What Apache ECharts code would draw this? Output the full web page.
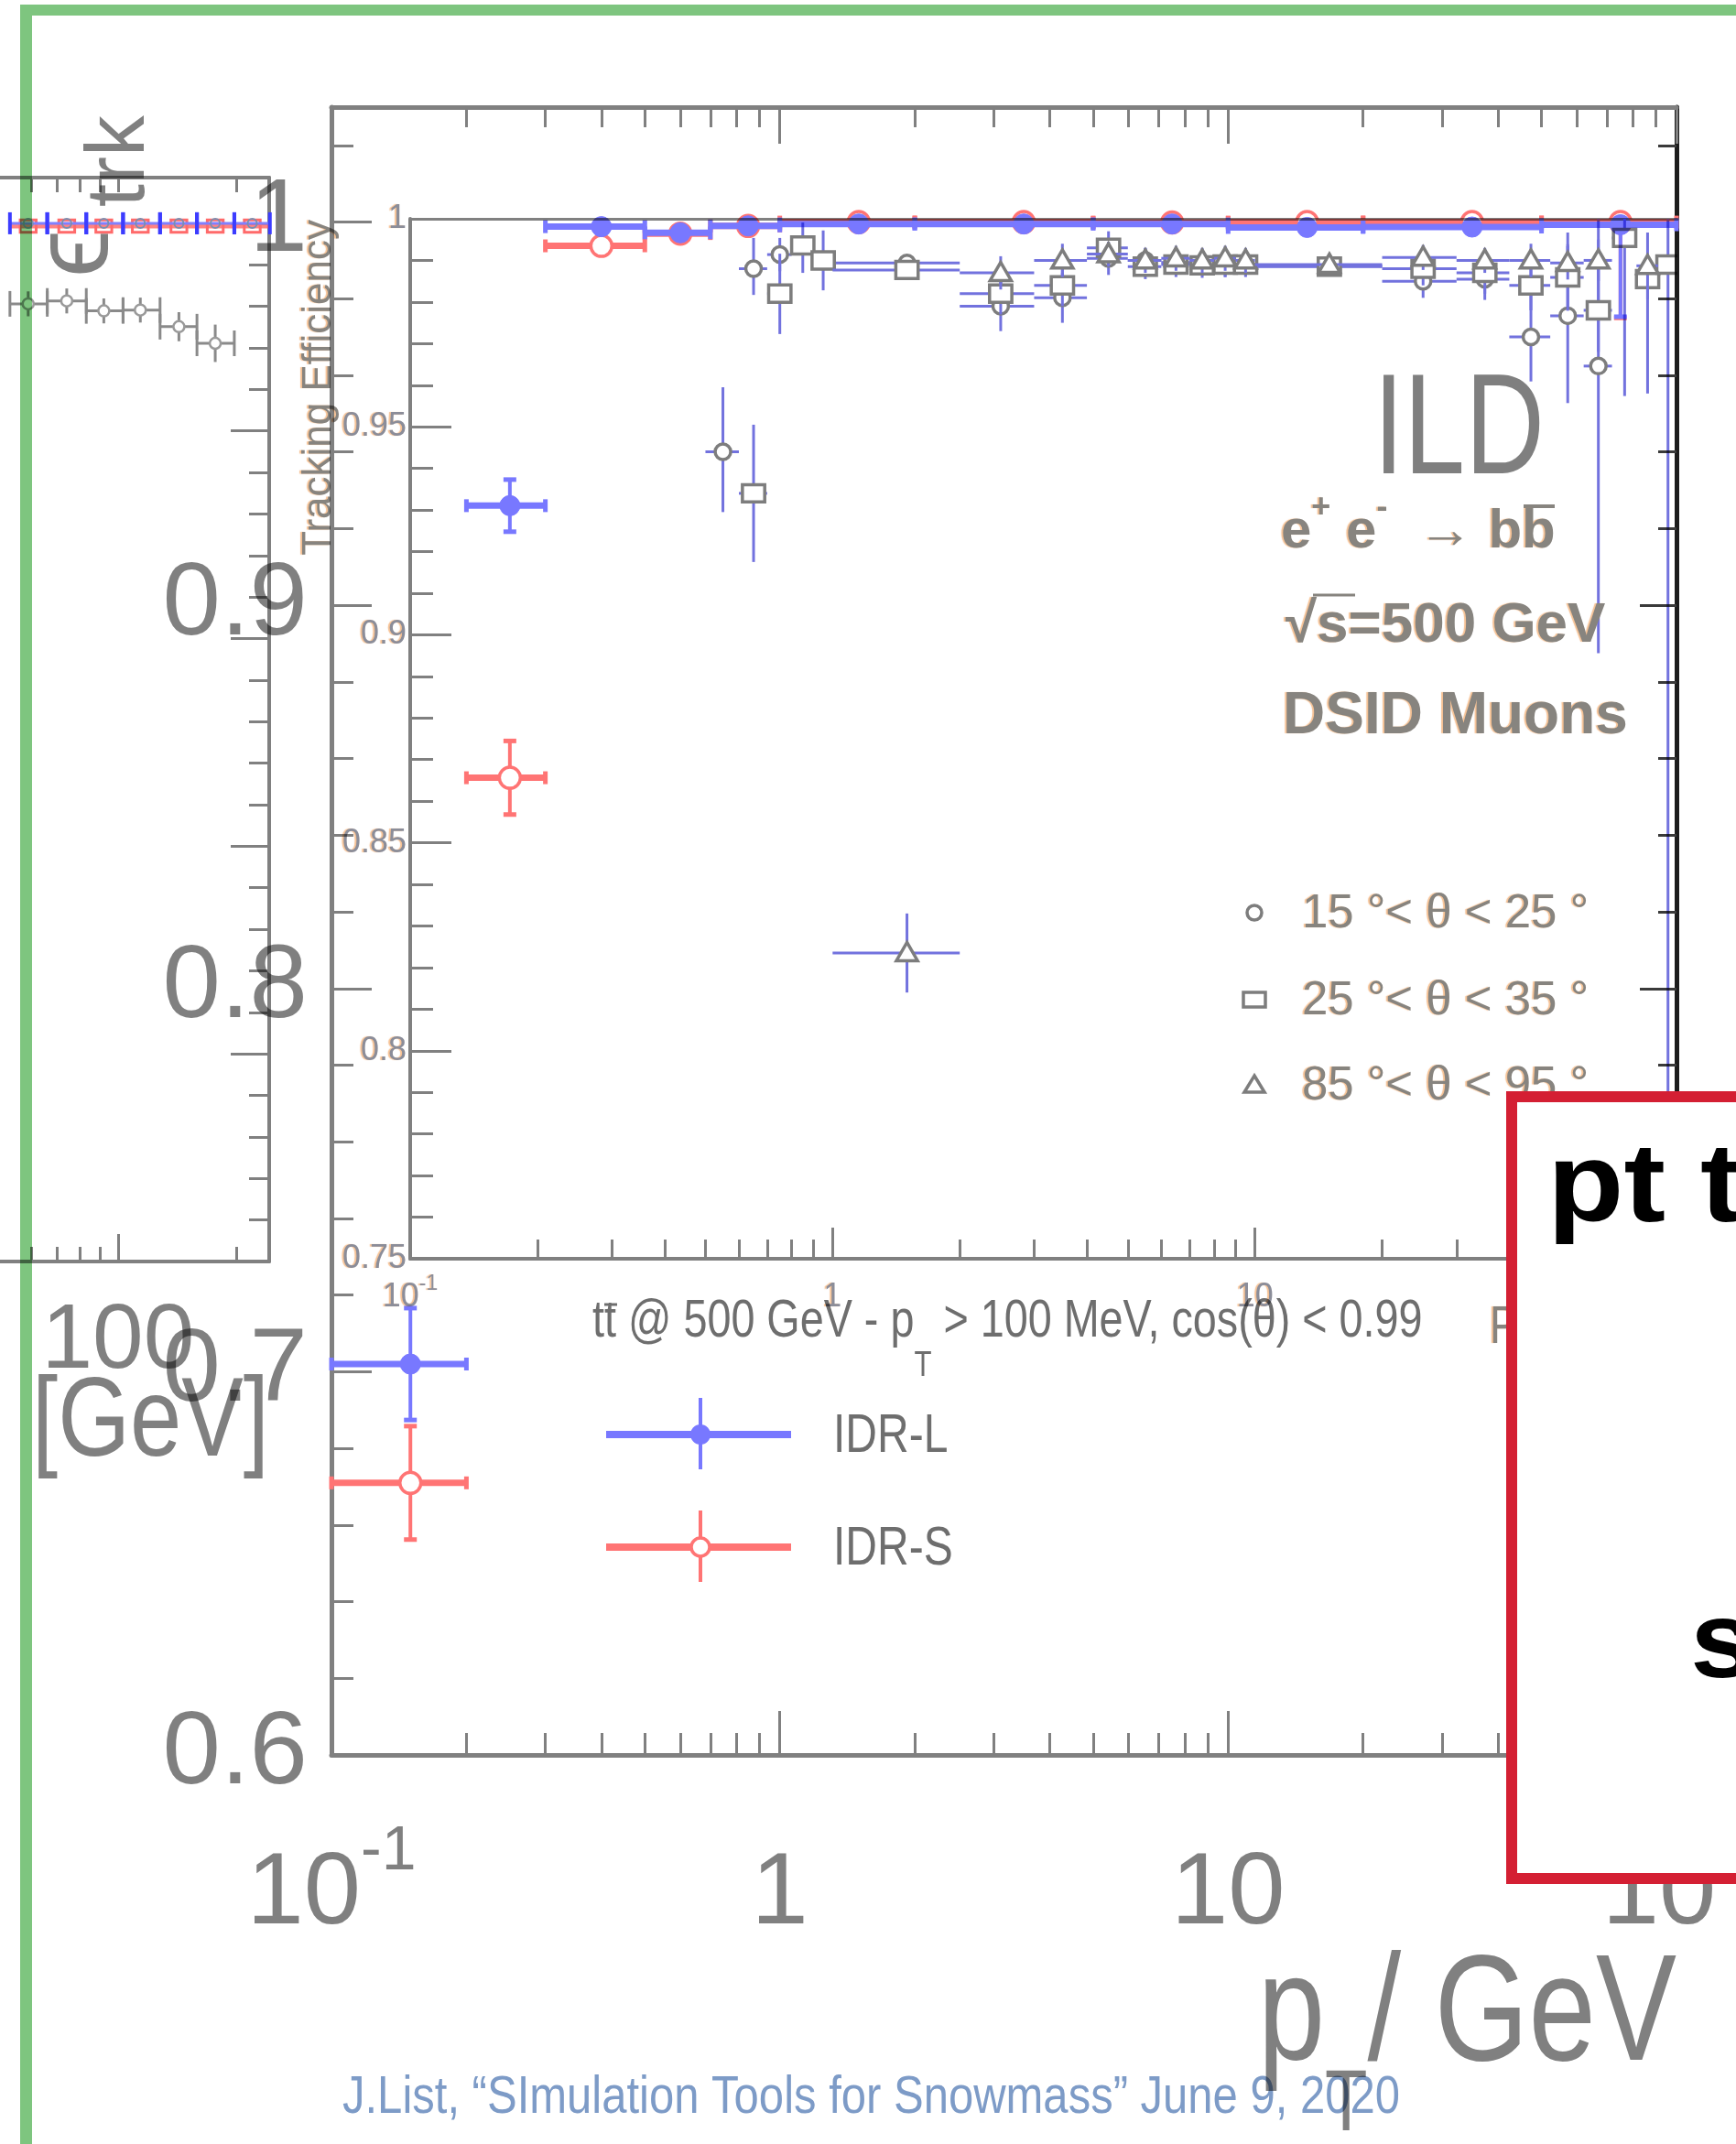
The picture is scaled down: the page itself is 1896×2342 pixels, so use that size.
<!DOCTYPE html>
<html>
<head>
<meta charset="utf-8">
<script src="https://cdn.jsdelivr.net/npm/echarts@6/dist/echarts.min.js"></script>
<style>
  html, body { margin: 0; padding: 0; background: #fff; }
  #stage { position: relative; width: 1896px; height: 2342px; overflow: hidden; background: #fff; }
  .layer { position: absolute; left: 0; top: 0; width: 1896px; height: 2342px; }
  .mul { mix-blend-mode: multiply; }
</style>
</head>
<body>
<div id="stage">
  <div id="plotC" class="layer mul"></div>
  <div id="plotA" class="layer mul"></div>
  <div id="inset" class="layer mul"></div>
  <div id="boxLayer" class="layer"></div>
  <div id="topLayer" class="layer mul"></div>
</div>
<script>
// ---------------- data ----------------
// ttbar @ 500 GeV tracking efficiency, IDR-L vs IDR-S, per pT bin
const idrPtCentre = [0.15, 0.25, 0.4, 0.6, 0.85, 1.5, 3.5, 7.5, 15, 35, 75];
const idrPtLow    = [0.1, 0.2, 0.3, 0.5, 0.7, 1, 2, 5, 10, 20, 50];
const idrPtHigh   = [0.2, 0.3, 0.5, 0.7, 1, 2, 5, 10, 20, 50, 100];
const idrLEff     = [0.702, 0.926, 0.9988, 0.9972, 0.999, 0.9995, 0.9995, 0.9995, 0.9986, 0.9987, 0.9993];
const idrLErrLow  = [0.0146, 0.0068, 0.0012, 0.0012, 0.0008, 0.0005, 0.0005, 0.0005, 0.0006, 0.0008, 0.024];
const idrLErrHigh = [0.0146, 0.0068, 0.0012, 0.0012, 0.0008, 0.0005, 0.0005, 0.0005, 0.0006, 0.0008, 0.0007];
const idrSEff     = [0.671, 0.855, 0.9938, 0.997, 0.999, 1.0, 1.0, 0.9999, 1.0, 1.0, 1.0];
const idrSErrLow  = [0.0148, 0.0096, 0.0015, 0.0012, 0.0008, 0.0004, 0.0004, 0.0004, 0.0005, 0.0006, 0.025];
const idrSErrHigh = [0.0148, 0.0096, 0.0015, 0.0012, 0.0008, 0, 0, 0.0001, 0, 0, 0];

// ILD, e+e- -> bb, DSID muons: 15-25 deg
const mu15Pt      = [0.55, 0.65, 0.75, 1.5, 2.5, 3.5, 4.5, 5.5, 6.5, 7.5, 8.5, 9.5, 15, 25, 35, 45, 55, 65];
const mu15Low     = [0.5, 0.6, 0.7, 1, 2, 3, 4, 5, 6, 7, 8, 9, 10, 20, 30, 40, 50, 60];
const mu15High    = [0.6, 0.7, 0.8, 2, 3, 4, 5, 6, 7, 8, 9, 10, 20, 30, 40, 50, 60, 70];
const mu15Eff     = [0.944, 0.988, 0.9914, 0.9894, 0.979, 0.981, 0.9905, 0.990, 0.9895, 0.9893, 0.989, 0.9893, 0.9886, 0.985, 0.9855, 0.9716, 0.9767, 0.9646];
const mu15ErrLow  = [0.0145, 0.0063, 0.004, 0.002, 0.006, 0.006, 0.004, 0.003, 0.003, 0.003, 0.003, 0.003, 0.002, 0.004, 0.005, 0.0107, 0.021, 0.069];
const mu15ErrHigh = [0.0155, 0.0074, 0.004, 0.002, 0.006, 0.006, 0.004, 0.003, 0.003, 0.003, 0.003, 0.003, 0.002, 0.004, 0.005, 0.0107, 0.020, 0.0354];

// 25-35 deg
const mu25Pt      = [0.65, 0.75, 0.85, 0.95, 1.5, 2.5, 3.5, 4.5, 5.5, 6.5, 7.5, 8.5, 9.5, 15, 25, 35, 45, 55, 65, 75, 85, 95];
const mu25Low     = [0.6, 0.7, 0.8, 0.9, 1, 2, 3, 4, 5, 6, 7, 8, 9, 10, 20, 30, 40, 50, 60, 70, 80, 90];
const mu25High    = [0.7, 0.8, 0.9, 1, 2, 3, 4, 5, 6, 7, 8, 9, 10, 20, 30, 40, 50, 60, 70, 80, 90, 100];
const mu25Eff     = [0.934, 0.982, 0.9936, 0.990, 0.9877, 0.982, 0.984, 0.993, 0.9885, 0.989, 0.9888, 0.989, 0.989, 0.9885, 0.988, 0.987, 0.984, 0.9859, 0.978, 0.9954, 0.9855, 0.989];
const mu25ErrLow  = [0.0165, 0.0097, 0.0066, 0.0072, 0.002, 0.005, 0.005, 0.004, 0.003, 0.003, 0.003, 0.003, 0.003, 0.002, 0.004, 0.005, 0.006, 0.008, 0.01, 0.038, 0.0275, 0.24];
const mu25ErrHigh = [0.0165, 0.0096, 0.0055, 0.0072, 0.002, 0.005, 0.005, 0.004, 0.003, 0.003, 0.003, 0.003, 0.003, 0.002, 0.004, 0.005, 0.006, 0.008, 0.01, 0.0046, 0.0055, 0.011];

// 85-95 deg
const mu85Pt      = [1.5, 2.5, 3.5, 4.5, 5.5, 6.5, 7.5, 8.5, 9.5, 15, 25, 35, 45, 55, 65, 85];
const mu85Low     = [1, 2, 3, 4, 5, 6, 7, 8, 9, 10, 20, 30, 40, 50, 60, 80];
const mu85High    = [2, 3, 4, 5, 6, 7, 8, 9, 10, 20, 30, 40, 50, 60, 70, 90];
const mu85Eff     = [0.8235, 0.987, 0.990, 0.9915, 0.990, 0.9905, 0.990, 0.9905, 0.990, 0.989, 0.9907, 0.990, 0.990, 0.9894, 0.990, 0.9887];
const mu85Err     = [0.0095, 0.004, 0.004, 0.003, 0.003, 0.003, 0.003, 0.003, 0.003, 0.002, 0.003, 0.003, 0.004, 0.004, 0.005, 0.008];

// high-pT panel on the left
const hiPtCentre  = [59, 74, 92, 114, 143, 177, 220];
const hiPtLow     = [53, 66, 83, 103, 128, 159, 198];
const hiPtHigh    = [66, 83, 103, 128, 159, 198, 244];
const hiEffBlue   = [1.0, 1.0, 1.0, 1.0, 1.0, 1.0, 1.0];
const hiEffRed    = [0.9993, 0.9993, 0.9993, 0.9993, 0.9993, 0.9993, 0.9993];
const hiErrZero   = [0, 0, 0, 0, 0, 0, 0];
const hiGrayPt    = [59, 74, 92, 114, 143, 177];
const hiGrayLow   = [53, 66, 83, 103, 128, 159];
const hiGrayHigh  = [66, 83, 103, 128, 159, 198];
const hiEffGray   = [0.9806, 0.9813, 0.9789, 0.9791, 0.9751, 0.9711];
const hiErrGray   = [0.003, 0.003, 0.003, 0.003, 0.0035, 0.0045];

// ticks and tick labels
const ptMajorTicks  = [0.1, 1, 10, 100];
const ptMinorTicks  = [0.2, 0.3, 0.4, 0.5, 0.6, 0.7, 0.8, 0.9, 2, 3, 4, 5, 6, 7, 8, 9, 20, 30, 40, 50, 60, 70, 80, 90];
const ptTickLabels  = ['10^-1', '1', '10', '10^2'];
const effMajorA     = [0.6, 0.7, 0.8, 0.9, 1.0];
const effMinorA     = [0.62, 0.64, 0.66, 0.68, 0.72, 0.74, 0.76, 0.78, 0.82, 0.84, 0.86, 0.88, 0.92, 0.94, 0.96, 0.98, 1.02];
const effLabelsA    = ['0.6', '0.7', '0.8', '0.9', '1'];
const effMajorB     = [0.75, 0.8, 0.85, 0.9, 0.95, 1.0];
const effMinorB     = [0.76, 0.77, 0.78, 0.79, 0.81, 0.82, 0.83, 0.84, 0.86, 0.87, 0.88, 0.89, 0.91, 0.92, 0.93, 0.94, 0.96, 0.97, 0.98, 0.99];
const effLabelsB    = ['0.75', '0.8', '0.85', '0.9', '0.95', '1'];
const hiPtMajorTicks = [100];
const hiPtMinorTicks = [60, 70, 80, 90, 200];
const hiPtTickLabels = ['100'];

// ---------------- styling helpers ----------------
const GRAY = '#808080';
const SANS = '"Liberation Sans",Arial,Helvetica,sans-serif';
const BLUE = '#7878ff';
const RED = '#ff7474';
const INK = '#87847f';
const LABEL_INK = '#8b8d99';
const FRINGE = 'rgba(240,160,90,0.65)';

function lookupLabel(ticks, labels, v, isLog) {
  let best = 0, bestD = Infinity;
  for (let i = 0; i < ticks.length; i++) {
    const d = isLog ? Math.abs(Math.log10(v) - Math.log10(ticks[i])) : Math.abs(v - ticks[i]);
    if (d < bestD) { bestD = d; best = i; }
  }
  return labels[best];
}
function powRich(txt) {
  const k = txt.indexOf('^');
  return k < 0 ? '{b|' + txt + '}' : '{b|' + txt.slice(0, k) + '}{s|' + txt.slice(k + 1) + '}';
}

function tickAxis(o) {
  const ax = {
    type: o.type, position: o.position, gridIndex: o.grid, min: o.min, max: o.max,
    axisLine: { show: !!o.line, onZero: false, lineStyle: { color: o.line || GRAY, width: o.lineWidth || 4 } },
    axisTick: { show: !!o.ticks, inside: true, length: o.len || 10, customValues: o.ticks || [],
      lineStyle: { color: o.tickColor || GRAY, width: o.tickWidth || 3 } },
    axisLabel: o.labels || { show: false },
    splitLine: { show: false },
    minorTick: { show: false },
    minorSplitLine: { show: false }
  };
  if (o.type === 'log') ax.logBase = 10;
  return ax;
}

function markerShape(kind, cx, cy, st) {
  const s = st.size;
  const style = { fill: st.fill, stroke: st.stroke, lineWidth: st.markerLine };
  if (kind === 'circle') return { type: 'circle', shape: { cx: cx, cy: cy, r: s / 2 }, style: style };
  if (kind === 'square') return { type: 'rect', shape: { x: cx - s * 0.58, y: cy - s * 0.45, width: s * 1.16, height: s * 0.9 }, style: style };
  return { type: 'polygon', shape: { points: [[cx, cy - s * 0.55], [cx + s * 0.55, cy + s * 0.4], [cx - s * 0.55, cy + s * 0.4]] }, style: style };
}

function errorSeries(name, xs, lo, hi, ys, eLo, eHi, st) {
  const data = xs.map(function (x, i) { return [x, ys[i], lo[i], hi[i], ys[i] - eLo[i], ys[i] + eHi[i]]; });
  return {
    type: 'custom', name: name, xAxisIndex: 0, yAxisIndex: 0, clip: !!st.clip, z: st.z || 5,
    encode: { x: [0, 2, 3], y: [1, 4, 5] },
    data: data,
    renderItem: function (params, api) {
      const c = api.coord([api.value(0), api.value(1)]);
      const l = api.coord([api.value(2), api.value(1)]);
      const h = api.coord([api.value(3), api.value(1)]);
      const b = api.coord([api.value(0), api.value(4)]);
      const t = api.coord([api.value(0), api.value(5)]);
      const kids = [];
      function seg(x1, y1, x2, y2, w, col) {
        kids.push({ type: 'line', shape: { x1: x1, y1: y1, x2: x2, y2: y2 }, style: { stroke: col, lineWidth: w } });
      }
      seg(l[0], c[1], h[0], c[1], st.hWidth, st.hColor || st.bar);
      if (Math.abs(b[1] - t[1]) > 0.5) seg(c[0], b[1], c[0], t[1], st.vWidth, st.bar);
      if (st.capH) {
        seg(l[0], c[1] - st.capH / 2, l[0], c[1] + st.capH / 2, st.capW, st.capColor || st.bar);
        seg(h[0], c[1] - st.capH / 2, h[0], c[1] + st.capH / 2, st.capW, st.capColor || st.bar);
      }
      if (st.capV && Math.abs(b[1] - t[1]) > 0.5) {
        seg(c[0] - st.capV / 2, b[1], c[0] + st.capV / 2, b[1], st.capW, st.bar);
        seg(c[0] - st.capV / 2, t[1], c[0] + st.capV / 2, t[1], st.capW, st.bar);
      }
      if (st.marker) kids.push(markerShape(st.marker, c[0], c[1], st));
      return { type: 'group', children: kids };
    }
  };
}

function gridsAt(r) {
  const g = { left: r.left, top: r.top, width: r.width, height: r.height, containLabel: false, outerBoundsMode: 'none' };
  return [g, Object.assign({}, g), Object.assign({}, g), Object.assign({}, g)];
}

function txt(x, y, text, o) {
  return {
    type: 'text', x: x, y: y, rotation: o.rotation || 0, scaleX: o.scaleX || 1, z: 50,
    style: Object.assign({
      text: text, fill: o.fill || GRAY, fontSize: o.fontSize || 40, fontFamily: o.fontFamily || SANS,
      fontWeight: o.fontWeight || 'normal', align: o.align || 'left', verticalAlign: o.verticalAlign || 'middle'
    }, o.extra || {})
  };
}
function seg(x1, y1, x2, y2, w, col, z) {
  return { type: 'line', z: z || 40, shape: { x1: x1, y1: y1, x2: x2, y2: y2 }, style: { stroke: col, lineWidth: w } };
}

// ---------------- left high-pT panel ----------------
const chartC = echarts.init(document.getElementById('plotC'), null, { renderer: 'canvas' });
chartC.setOption({
  animation: false,
  grid: gridsAt({ left: 0, top: 194, width: 294, height: 1184 }),
  xAxis: [
    tickAxis({ type: 'log', position: 'bottom', grid: 0, min: 50, max: 243, line: GRAY, lineWidth: 4, ticks: hiPtMajorTicks, len: 30,
      labels: { show: true, customValues: hiPtMajorTicks, margin: 38, color: GRAY, fontFamily: SANS, fontSize: 100,
        formatter: function (v) { return lookupLabel(hiPtMajorTicks, hiPtTickLabels, v, true); } } }),
    tickAxis({ type: 'log', position: 'bottom', grid: 1, min: 50, max: 243, ticks: hiPtMinorTicks, len: 16 }),
    tickAxis({ type: 'log', position: 'top', grid: 2, min: 50, max: 243, line: GRAY, lineWidth: 4, ticks: hiPtMinorTicks.concat(hiPtMajorTicks), len: 16 }),
    tickAxis({ type: 'log', position: 'top', grid: 3, min: 50, max: 243 })
  ],
  yAxis: [
    tickAxis({ type: 'value', position: 'right', grid: 0, min: 0.75, max: 1.011, line: GRAY, lineWidth: 4, ticks: effMajorB, len: 42 }),
    tickAxis({ type: 'value', position: 'right', grid: 1, min: 0.75, max: 1.011, ticks: effMinorB, len: 22 }),
    tickAxis({ type: 'value', position: 'left', grid: 2, min: 0.75, max: 1.011 }),
    tickAxis({ type: 'value', position: 'left', grid: 3, min: 0.75, max: 1.011 })
  ],
  series: [
    errorSeries('gray', hiGrayPt, hiGrayLow, hiGrayHigh, hiEffGray, hiErrGray, hiErrGray,
      { bar: '#8a8a8a', hWidth: 3, vWidth: 3, capH: 28, capW: 3, marker: 'circle', size: 12, fill: '#fff', stroke: '#9a9a9a', markerLine: 2.5 }),
    errorSeries('red', hiPtCentre, hiPtLow, hiPtHigh, hiEffRed, hiErrZero, hiErrZero,
      { bar: 'rgba(255,100,100,0.8)', hWidth: 5, vWidth: 3, marker: 'square', size: 15, fill: 'rgba(255,255,255,0)', stroke: '#ff6a6a', markerLine: 3 }),
    errorSeries('blue', hiPtCentre, hiPtLow, hiPtHigh, hiEffBlue, hiErrZero, hiErrZero,
      { bar: '#8080ff', hWidth: 3, vWidth: 3, capH: 24, capW: 4, capColor: '#3c3cff', marker: 'circle', size: 10, fill: 'rgba(255,255,255,0)', stroke: '#7a8fb0', markerLine: 2 })
  ],
  graphic: [
    txt(294, 1556, '[GeV]', { fontSize: 122, scaleX: 0.83, align: 'right' })
  ]
});

// ---------------- main panel: IDR-L vs IDR-S ----------------
const bigLabelRich = {
  b: { fontSize: 112, lineHeight: 116, padding: [25, 0, 0, 0], verticalAlign: 'top', fontFamily: SANS, color: GRAY },
  s: { fontSize: 68, lineHeight: 70, verticalAlign: 'top', fontFamily: SANS, color: GRAY }
};
const chartA = echarts.init(document.getElementById('plotA'), null, { renderer: 'canvas' });
chartA.setOption({
  animation: false,
  grid: gridsAt({ left: 362, top: 117, width: 1469, height: 1800 }),
  xAxis: [
    tickAxis({ type: 'log', position: 'bottom', grid: 0, min: 0.1, max: 100, line: GRAY, lineWidth: 5, ticks: ptMajorTicks, len: 48,
      labels: { show: true, customValues: ptMajorTicks, margin: 72, color: GRAY, fontFamily: SANS, fontSize: 112,
        formatter: function (v) { return powRich(lookupLabel(ptMajorTicks, ptTickLabels, v, true)); }, rich: bigLabelRich } }),
    tickAxis({ type: 'log', position: 'bottom', grid: 1, min: 0.1, max: 100, ticks: ptMinorTicks, len: 24 }),
    tickAxis({ type: 'log', position: 'top', grid: 2, min: 0.1, max: 100, line: GRAY, lineWidth: 5, ticks: ptMajorTicks, len: 40 }),
    tickAxis({ type: 'log', position: 'top', grid: 3, min: 0.1, max: 100, ticks: ptMinorTicks, len: 22 })
  ],
  yAxis: [
    tickAxis({ type: 'value', position: 'left', grid: 0, min: 0.6, max: 1.03, line: GRAY, lineWidth: 5, ticks: effMajorA, len: 44,
      labels: { show: true, customValues: effMajorA, margin: 26, color: GRAY, fontFamily: SANS, fontSize: 114,
        formatter: function (v) { return lookupLabel(effMajorA, effLabelsA, v, false); } } }),
    tickAxis({ type: 'value', position: 'left', grid: 1, min: 0.6, max: 1.03, ticks: effMinorA, len: 24 }),
    tickAxis({ type: 'value', position: 'right', grid: 2, min: 0.6, max: 1.03, line: '#1c1c1c', lineWidth: 5, ticks: effMajorA, len: 40, tickColor: '#3a3a3a' }),
    tickAxis({ type: 'value', position: 'right', grid: 3, min: 0.6, max: 1.03, ticks: effMinorA, len: 20, tickColor: '#3a3a3a' })
  ],
  series: [
    errorSeries('IDR-S', idrPtCentre, idrPtLow, idrPtHigh, idrSEff, idrSErrLow, idrSErrHigh,
      { bar: RED, hWidth: 7, vWidth: 4, capH: 14, capV: 14, capW: 5, marker: 'circle', size: 23, fill: '#fff', stroke: RED, markerLine: 3.5, z: 5 }),
    errorSeries('IDR-L', idrPtCentre, idrPtLow, idrPtHigh, idrLEff, idrLErrLow, idrLErrHigh,
      { bar: BLUE, hWidth: 7, vWidth: 4, capH: 14, capV: 14, capW: 5, marker: 'circle', size: 22, fill: BLUE, stroke: BLUE, markerLine: 1, z: 6 })
  ],
  graphic: [
    // y-axis title, rotated
    txt(85, 303, '\u03F5', { fontSize: 118, rotation: Math.PI / 2 }),
    txt(132, 226, 'trk', { fontSize: 90, rotation: Math.PI / 2 }),
    // x-axis title
    { type: 'text', x: 1831, y: 2122, scaleX: 0.8, z: 50, style: {
        text: '{n|p}{sub|T}{n|/ GeV}', align: 'right', verticalAlign: 'top', fill: GRAY, fontFamily: SANS, fontSize: 165,
        rich: {
          n: { fontSize: 165, lineHeight: 170, verticalAlign: 'top', fontFamily: SANS, fill: GRAY },
          sub: { fontSize: 95, lineHeight: 95, verticalAlign: 'top', padding: [131, 0, 0, 0], fontFamily: SANS, fill: GRAY }
        } } },
    // sample description
    { type: 'text', x: 647, y: 1416, scaleX: 0.82, z: 50, style: {
        text: '{n|tt @ 500 GeV - p}{sub|T}{n| > 100 MeV, cos(\u03B8) < 0.99}', align: 'left', verticalAlign: 'top', fill: '#6e6e6e', fontFamily: SANS, fontSize: 57,
        rich: {
          n: { fontSize: 57, lineHeight: 70, verticalAlign: 'top', fontFamily: SANS, fill: '#6e6e6e' },
          sub: { fontSize: 38, lineHeight: 38, verticalAlign: 'top', padding: [58, 0, 0, 0], fontFamily: SANS, fill: '#6e6e6e' }
        } } },
    seg(660, 1425, 674, 1425, 3, '#6e6e6e'),
    // legend
    seg(662, 1567, 864, 1567, 8, BLUE), seg(765, 1527, 765, 1605, 4, BLUE),
    { type: 'circle', z: 41, shape: { cx: 765, cy: 1567, r: 11 }, style: { fill: BLUE } },
    seg(662, 1690, 864, 1690, 8, RED), seg(765, 1650, 765, 1728, 4, RED),
    { type: 'circle', z: 41, shape: { cx: 765, cy: 1690, r: 10 }, style: { fill: '#fff', stroke: RED, lineWidth: 3.5 } },
    txt(910, 1569, 'IDR-L', { fontSize: 60, scaleX: 0.8, fill: '#6e6e6e' }),
    txt(910, 1692, 'IDR-S', { fontSize: 60, scaleX: 0.8, fill: '#6e6e6e' })
  ]
});

// ---------------- inset: ILD DSID muons ----------------
const fringe = { textShadowColor: FRINGE, textShadowOffsetX: -2, textShadowBlur: 1 };
const smallRich = {
  b: { fontSize: 36, lineHeight: 40, padding: [8, 0, 0, 0], verticalAlign: 'top', fontFamily: SANS, color: LABEL_INK },
  s: { fontSize: 23, lineHeight: 25, verticalAlign: 'top', fontFamily: SANS, color: LABEL_INK }
};
const muStyle = function (kind) {
  return { bar: '#7272de', hWidth: 3, vWidth: 3, marker: kind, size: kind === 'circle' ? 17 : 21, fill: '#fff', stroke: '#7d7d7d', markerLine: 3.5, clip: true };
};
const chartB = echarts.init(document.getElementById('inset'), null, { renderer: 'canvas' });
chartB.setOption({
  animation: false,
  grid: gridsAt({ left: 448, top: 239, width: 1384, height: 1136 }),
  xAxis: [
    tickAxis({ type: 'log', position: 'bottom', grid: 0, min: 0.1, max: 100, line: GRAY, lineWidth: 4, ticks: ptMajorTicks, len: 34,
      labels: Object.assign({ show: true, customValues: ptMajorTicks, margin: 16, color: LABEL_INK, fontFamily: SANS, fontSize: 36,
        formatter: function (v) { return powRich(lookupLabel(ptMajorTicks, ptTickLabels, v, true)); }, rich: smallRich }, fringe) }),
    tickAxis({ type: 'log', position: 'bottom', grid: 1, min: 0.1, max: 100, ticks: ptMinorTicks, len: 21 }),
    tickAxis({ type: 'log', position: 'top', grid: 2, min: 0.1, max: 100, line: GRAY, lineWidth: 3 }),
    tickAxis({ type: 'log', position: 'top', grid: 3, min: 0.1, max: 100 })
  ],
  yAxis: [
    tickAxis({ type: 'value', position: 'left', grid: 0, min: 0.75, max: 1.0, line: GRAY, lineWidth: 4, ticks: effMajorB, len: 45,
      labels: Object.assign({ show: true, customValues: effMajorB, margin: 4, color: LABEL_INK, fontFamily: SANS, fontSize: 36,
        formatter: function (v) { return lookupLabel(effMajorB, effLabelsB, v, false); } }, fringe) }),
    tickAxis({ type: 'value', position: 'left', grid: 1, min: 0.75, max: 1.0, ticks: effMinorB, len: 25 }),
    tickAxis({ type: 'value', position: 'right', grid: 2, min: 0.75, max: 1.0 }),
    tickAxis({ type: 'value', position: 'right', grid: 3, min: 0.75, max: 1.0 })
  ],
  series: [
    errorSeries('15-25', mu15Pt, mu15Low, mu15High, mu15Eff, mu15ErrLow, mu15ErrHigh, muStyle('circle')),
    errorSeries('25-35', mu25Pt, mu25Low, mu25High, mu25Eff, mu25ErrLow, mu25ErrHigh, muStyle('square')),
    errorSeries('85-95', mu85Pt, mu85Low, mu85High, mu85Eff, mu85Err, mu85Err, muStyle('triangle'))
  ],
  graphic: [
    txt(349, 240, 'Tracking Efficiency', { fontSize: 44, rotation: Math.PI / 2, align: 'right', fill: INK, extra: fringe }),
    txt(1500, 474, 'ILD', { fontSize: 156, scaleX: 0.77, fill: '#7f7f7f' }),
    { type: 'text', x: 1399, y: 537, z: 50, style: Object.assign({
        text: '{n|e}{p|+}{n| e}{p|-}{a|  \u2192 }{n|bb}', align: 'left', verticalAlign: 'top', fill: INK, fontSize: 60, fontFamily: SANS,
        rich: {
          n: { fontSize: 60, lineHeight: 64, padding: [14, 0, 0, 0], verticalAlign: 'top', fontWeight: 'bold', fontFamily: SANS, fill: INK },
          a: { fontSize: 60, lineHeight: 64, padding: [14, 0, 0, 0], verticalAlign: 'top', fontFamily: SANS, fill: INK },
          p: { fontSize: 36, lineHeight: 38, verticalAlign: 'top', fontWeight: 'bold', fontFamily: SANS, fill: INK }
        } }, fringe) },
    seg(1664, 553, 1698, 553, 4, INK),
    txt(1404, 684, '\u221As=500 GeV', { fontSize: 62, fontWeight: 'bold', fill: INK, extra: fringe }),
    seg(1434, 650, 1480, 650, 3, INK),
    txt(1401, 783, 'DSID Muons', { fontSize: 64, fontWeight: 'bold', fill: INK, extra: fringe }),
    { type: 'circle', z: 41, shape: { cx: 1370, cy: 997, r: 8 }, style: { fill: '#fff', stroke: '#7d7d7d', lineWidth: 3.5 } },
    { type: 'rect', z: 41, shape: { x: 1358, y: 1084, width: 24, height: 16 }, style: { fill: '#fff', stroke: '#7d7d7d', lineWidth: 3.5 } },
    { type: 'polygon', z: 41, shape: { points: [[1370, 1175], [1381, 1193], [1359, 1193]] }, style: { fill: '#fff', stroke: '#7d7d7d', lineWidth: 3.5 } },
    txt(1422, 999, '15 \u00B0< \u03B8 < 25 \u00B0', { fontSize: 51, fill: INK, extra: fringe }),
    txt(1422, 1094, '25 \u00B0< \u03B8 < 35 \u00B0', { fontSize: 51, fill: INK, extra: fringe }),
    txt(1422, 1187, '85 \u00B0< \u03B8 < 95 \u00B0', { fontSize: 51, fill: INK, extra: fringe }),
    txt(1627, 1451, 'P', { fontSize: 57, scaleX: 0.82, fill: INK, extra: fringe })
  ]
});

// ---------------- red call-out box ----------------
const chartBox = echarts.init(document.getElementById('boxLayer'), null, { renderer: 'canvas' });
chartBox.setOption({
  animation: false,
  graphic: [
    { type: 'rect', z: 10, shape: { x: 1651, y: 1198, width: 400, height: 854 }, style: { fill: '#ffffff', stroke: '#d41f33', lineWidth: 12 } },
    txt(1690, 1300, 'pt t', { fontSize: 122, scaleX: 1.12, fontWeight: 'bold', fill: '#000' }),
    txt(1846, 1799, 's', { fontSize: 118, scaleX: 1.08, fontWeight: 'bold', fill: '#000' })
  ]
});

// ---------------- slide frame and footer ----------------
const chartTop = echarts.init(document.getElementById('topLayer'), null, { renderer: 'canvas' });
chartTop.setOption({
  animation: false,
  graphic: [
    { type: 'rect', z: 10, shape: { x: 22, y: 5, width: 13, height: 2337 }, style: { fill: '#7ec57f' } },
    { type: 'rect', z: 10, shape: { x: 22, y: 5, width: 1874, height: 12 }, style: { fill: '#7ec57f' } },
    txt(374, 2292, 'J.List, \u201CSImulation Tools for Snowmass\u201D June 9, 2020', { fontSize: 58, scaleX: 0.845, fill: '#7d9bc7' })
  ]
});
</script>
</body>
</html>
